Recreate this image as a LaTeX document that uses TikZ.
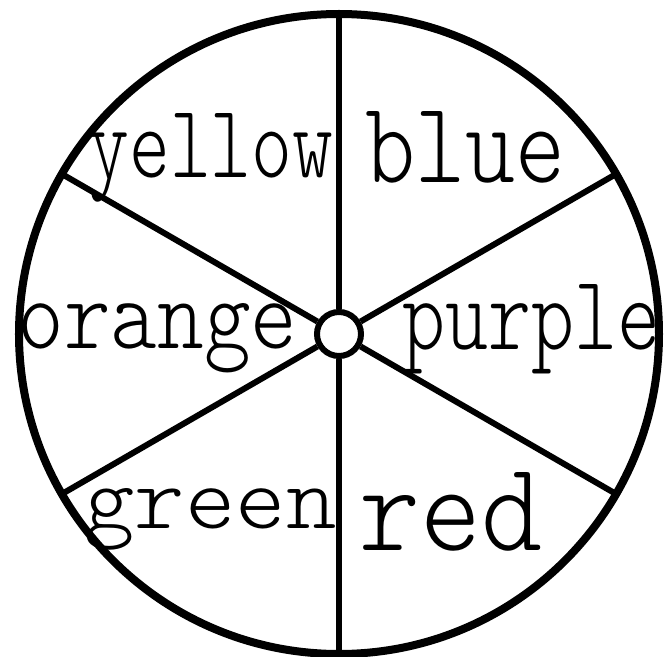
\documentclass[tikz,border=0pt]{standalone}
\usepackage{fontspec}
\usepackage{graphicx}
\newfontfamily\spinnerfont{Latin Modern Mono Light}
\usetikzlibrary{positioning}

\begin{document}
\begin{tikzpicture}[x=1pt,y=1pt,
  rimline/.style={draw,line width=8pt},
  spoke/.style={draw,line width=6pt},
  hub/.style={circle,draw,line width=6pt,minimum size=44pt,inner sep=0pt,fill=white},
  wheellabel/.style={anchor=base,inner sep=0pt,font=\spinnerfont}
]
  \useasboundingbox (-339,-322) rectangle (330,334);
  % Outer rim of the spinner
  \draw[rimline] (0,0) circle (320pt);
  % Hub in the middle
  \node[hub] (hub) at (0,0) {};
  % Rim points where the spokes end
  \coordinate (rimN) at (90:320);
  \coordinate (rimNE) at (30:320);
  \coordinate (rimSE) at (-30:320);
  \coordinate (rimS) at (-90:320);
  \coordinate (rimSW) at (-150:320);
  \coordinate (rimNW) at (150:320);
  % Spokes
  \draw[spoke] (hub) -- (rimN);
  \draw[spoke] (hub) -- (rimNE);
  \draw[spoke] (hub) -- (rimSE);
  \draw[spoke] (hub) -- (rimS);
  \draw[spoke] (hub) -- (rimSW);
  \draw[spoke] (hub) -- (rimNW);
  % Colour names, one per sector
  \node[wheellabel] (yellow) at (-128,156) {\resizebox{245pt}{64pt}{yellow}};
  \node[wheellabel] (blue) at (126.5,151) {\resizebox{200pt}{71pt}{blue}};
  \node[wheellabel] (orange) at (-181.5,-14) {\resizebox{280pt}{45pt}{orange}};
  \node[wheellabel] (purple) at (193,-16) {\resizebox{258pt}{65pt}{purple}};
  \node[wheellabel] (green) at (-128.5,-194) {\resizebox{252pt}{40pt}{green}};
  \node[wheellabel] (red) at (112.5,-216) {\resizebox{183pt}{78pt}{red}};
\end{tikzpicture}
\end{document}
